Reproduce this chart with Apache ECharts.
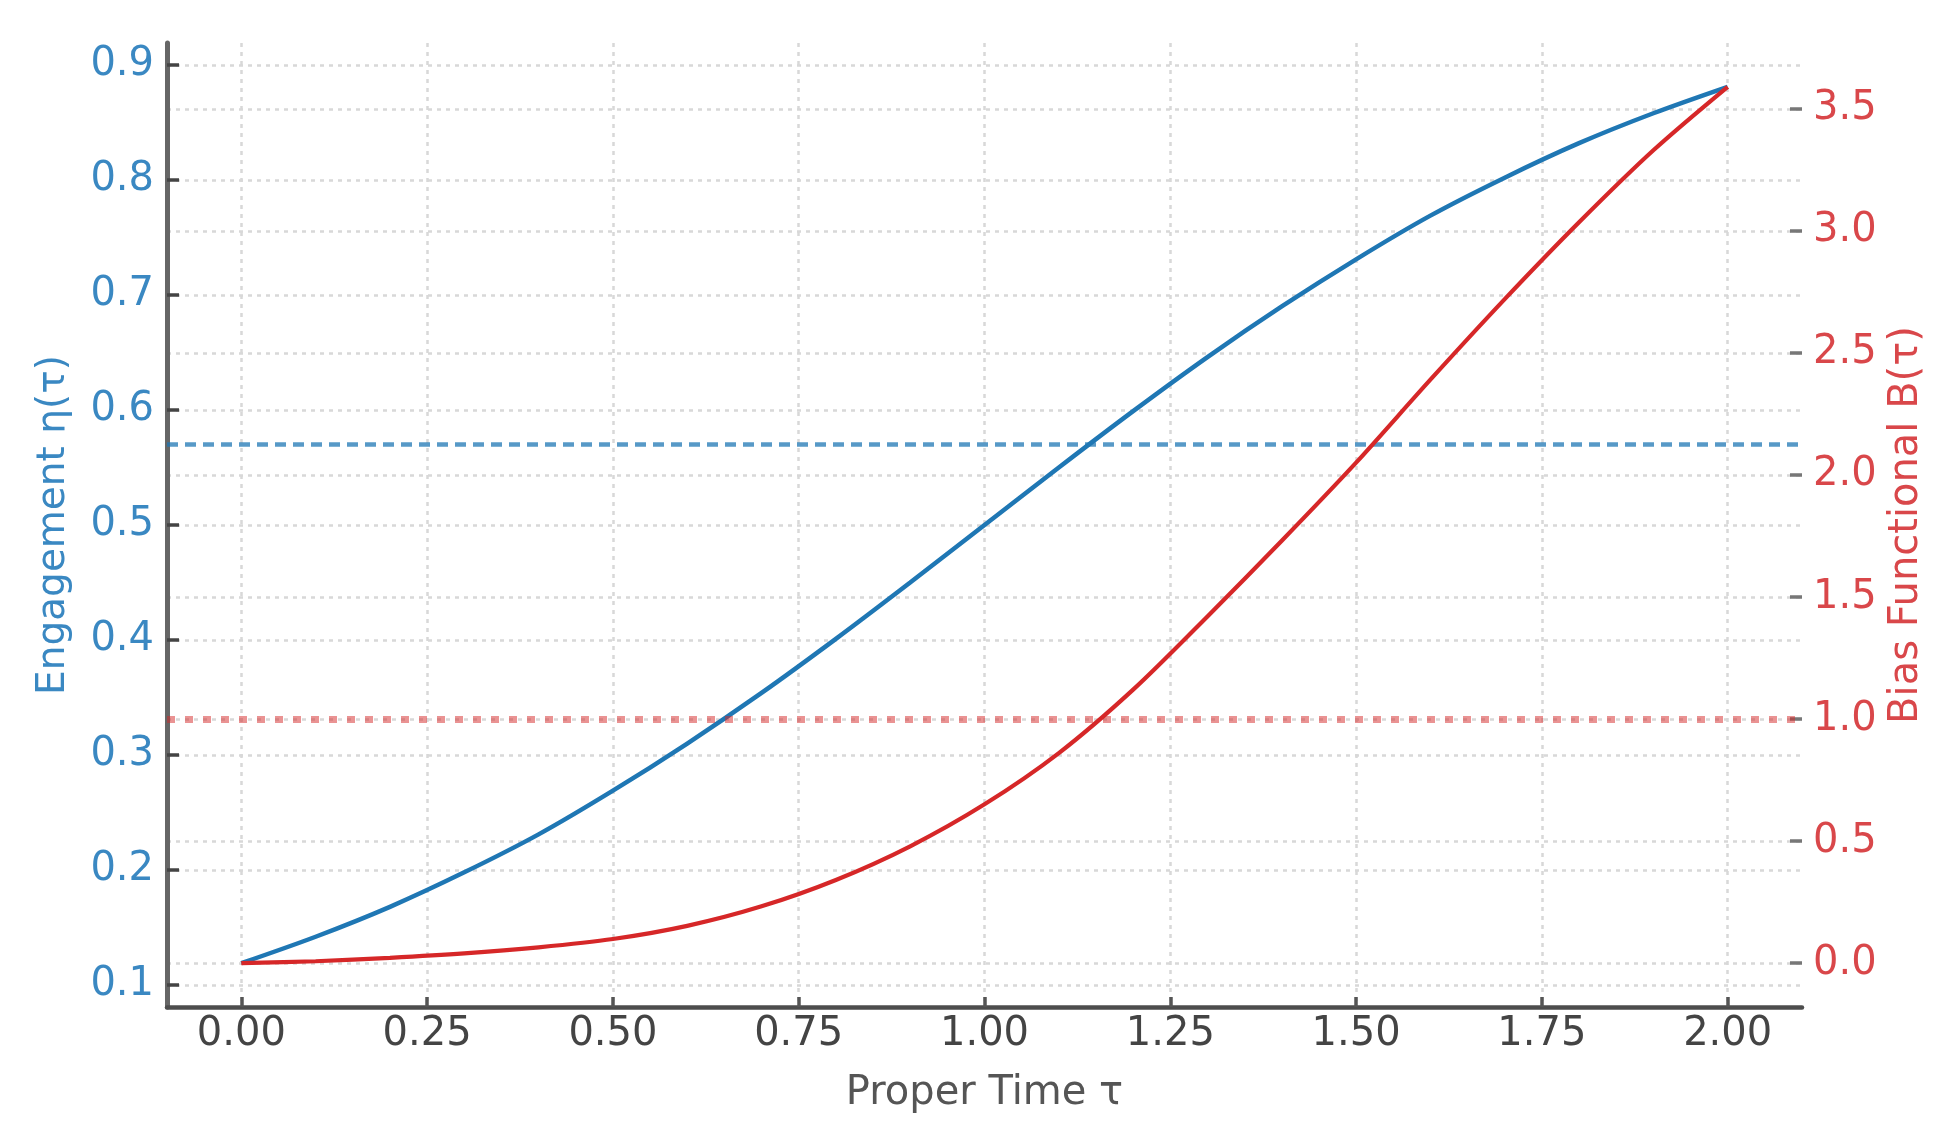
<!DOCTYPE html>
<html>
<head>
<meta charset="utf-8">
<script src="https://cdn.jsdelivr.net/npm/echarts@6/dist/echarts.min.js"></script>
<style>
html,body{margin:0;padding:0;background:#ffffff;}
#chart{width:1959px;height:1141px;}
</style>
</head>
<body>
<div id="chart"></div>
<script>
// ---- data ----
const tau = [0.0,0.1,0.2,0.3,0.4,0.5,0.6,0.7,0.8,0.9,1.0,1.1,1.2,1.3,1.4,1.5,1.6,1.7,1.8,1.9,2.0];
const engagement = [0.119,0.142,0.168,0.198,0.231,0.269,0.310,0.354,0.401,0.450,0.500,0.550,0.599,0.646,0.690,0.731,0.769,0.802,0.832,0.858,0.881];
const bias = [0.000,0.008,0.022,0.040,0.065,0.099,0.153,0.233,0.341,0.479,0.651,0.861,1.121,1.421,1.731,2.051,2.391,2.721,3.036,3.331,3.591];
const engagementThreshold = [0.575];
const biasThreshold = [1.0];
const xTickRange = [0, 2];       const xTickStep = 0.25;
const leftTickRange = [0.1, 0.9]; const leftTickStep = 0.1;
const rightTickRange = [0.0, 3.5]; const rightTickStep = 0.5;
const xTitle = 'Proper Time τ';
const leftTitle = 'Engagement η(τ)';
const rightTitle = 'Bias Functional B(τ)';

// ---- layout ----
const W = 1959, H = 1141;
const plot = {left: 167, right: 1802, top: 43, bottom: 1007};
const FONT = 'DejaVu Sans';
const BLUE = '#1f77b4', RED = '#d62728';
const BLUE_TXT = '#3a88c2', RED_TXT = '#d9474a';

function padRange(arr) {
  const mn = Math.min(...arr), mx = Math.max(...arr), p = 0.05 * (mx - mn);
  return [mn - p, mx + p];
}
const xR = padRange(tau), lR = padRange(engagement), rR = padRange(bias);
const pw = plot.right - plot.left, ph = plot.bottom - plot.top;
const xPix = v => plot.left + (v - xR[0]) / (xR[1] - xR[0]) * pw;
const lPix = v => plot.top + (lR[1] - v) / (lR[1] - lR[0]) * ph;
const rPix = v => plot.top + (rR[1] - v) / (rR[1] - rR[0]) * ph;

const gridLine = {show: true, lineStyle: {color: '#d8d8d8', width: 2.5, type: [4, 5]}};
const hidden = {show: false};
const noLine = {show: false, onZero: false};

const chart = echarts.init(document.getElementById('chart'), null, {renderer: 'canvas', width: W, height: H});
chart.setOption({
  animation: false,
  backgroundColor: '#ffffff',
  grid: [
    {left: plot.left, top: plot.top, width: pw, height: ph, outerBoundsMode: 'none'},
    {left: xPix(xTickRange[0]), top: plot.top, width: xPix(xTickRange[1]) - xPix(xTickRange[0]), height: ph, outerBoundsMode: 'none'},
    {left: plot.left, top: lPix(leftTickRange[1]), width: pw, height: lPix(leftTickRange[0]) - lPix(leftTickRange[1]), outerBoundsMode: 'none'},
    {left: plot.left, top: rPix(rightTickRange[1]), width: pw, height: rPix(rightTickRange[0]) - rPix(rightTickRange[1]), outerBoundsMode: 'none'}
  ],
  xAxis: [
    {gridIndex: 0, type: 'value', position: 'bottom', min: xR[0], max: xR[1],
     axisLine: {show: true, onZero: false, lineStyle: {color: '#4d4d4d', width: 4.5}},
     axisTick: hidden, axisLabel: hidden, splitLine: hidden,
     name: xTitle, nameLocation: 'middle', nameGap: 67,
     nameTextStyle: {fontFamily: FONT, fontSize: 40, color: '#555555'}},
    {gridIndex: 1, type: 'value', position: 'bottom', min: xTickRange[0], max: xTickRange[1], interval: xTickStep,
     axisLine: noLine,
     axisTick: {show: true, inside: true, length: 10, lineStyle: {color: '#555555', width: 3.5}},
     axisLabel: {show: true, margin: 8, fontFamily: FONT, fontSize: 40, color: '#444444',
                 formatter: v => v.toFixed(2)},
     splitLine: gridLine},
    {gridIndex: 2, type: 'value', show: false, min: 0, max: 1, axisLine: noLine},
    {gridIndex: 3, type: 'value', show: false, min: 0, max: 1, axisLine: noLine}
  ],
  yAxis: [
    {gridIndex: 0, type: 'value', position: 'left', min: lR[0], max: lR[1],
     axisLine: {show: true, onZero: false, lineStyle: {color: '#666666', width: 5}},
     axisTick: hidden, axisLabel: hidden, splitLine: hidden,
     name: leftTitle, nameLocation: 'middle', nameGap: 94,
     nameTextStyle: {fontFamily: FONT, fontSize: 39, color: BLUE_TXT}},
    {gridIndex: 0, type: 'value', position: 'right', min: rR[0], max: rR[1],
     axisLine: noLine, axisTick: hidden, axisLabel: hidden, splitLine: hidden,
     name: rightTitle, nameLocation: 'middle', nameGap: 85,
     nameTextStyle: {fontFamily: FONT, fontSize: 40, color: RED_TXT}},
    {gridIndex: 1, type: 'value', show: false, min: 0, max: 1, axisLine: noLine},
    {gridIndex: 2, type: 'value', position: 'left', min: leftTickRange[0], max: leftTickRange[1], interval: leftTickStep,
     axisLine: noLine,
     axisTick: {show: true, inside: true, length: 12, lineStyle: {color: '#444444', width: 3.5}},
     axisLabel: {show: true, margin: 13, fontFamily: FONT, fontSize: 40, color: BLUE_TXT,
                 formatter: v => v.toFixed(1)},
     splitLine: gridLine},
    {gridIndex: 3, type: 'value', position: 'right', min: rightTickRange[0], max: rightTickRange[1], interval: rightTickStep,
     axisLine: noLine,
     axisTick: {show: true, inside: true, length: 12, lineStyle: {color: '#777777', width: 3.5}},
     axisLabel: {show: true, margin: 11, fontFamily: FONT, fontSize: 40, color: RED_TXT,
                 formatter: v => v.toFixed(1)},
     splitLine: gridLine}
  ],
  series: [
    {type: 'line', name: 'engagement', xAxisIndex: 0, yAxisIndex: 0,
     data: tau.map((t, i) => [t, engagement[i]]),
     showSymbol: false, smooth: 0.3, z: 3,
     lineStyle: {color: BLUE, width: 4.5}, silent: true,
     markLine: {silent: true, symbol: 'none', label: {show: false}, z: 2,
       lineStyle: {color: BLUE, width: 4.5, opacity: 0.75, type: [11, 7]},
       data: engagementThreshold.map(v => ({yAxis: v}))}},
    {type: 'line', name: 'bias', xAxisIndex: 0, yAxisIndex: 1,
     data: tau.map((t, i) => [t, bias[i]]),
     showSymbol: false, smooth: 0.3, z: 4,
     lineStyle: {color: RED, width: 4.2}, silent: true,
     markLine: {silent: true, symbol: 'none', label: {show: false}, z: 5,
       lineStyle: {color: RED, width: 7, opacity: 0.5, type: [8, 10]},
       data: biasThreshold.map(v => ({yAxis: v}))}}
  ]
});
</script>
</body>
</html>
